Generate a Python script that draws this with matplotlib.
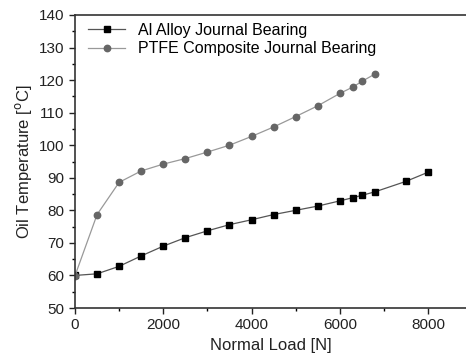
import matplotlib.pyplot as plt
from matplotlib.ticker import MultipleLocator

plt.rcParams['font.family'] = ['Liberation Sans', 'DejaVu Sans']

al_load = [0, 500, 1000, 1500, 2000, 2500, 3000, 3500, 4000, 4500, 5000,
           5500, 6000, 6300, 6500, 6800, 7500, 8000]
al_temp = [60.0, 60.5, 62.8, 66.0, 69.0, 71.6, 73.7, 75.6, 77.1, 78.7, 80.0,
           81.3, 82.9, 83.9, 84.6, 85.7, 88.9, 91.7]

ptfe_load = [0, 500, 1000, 1500, 2000, 2500, 3000, 3500, 4000, 4500, 5000,
             5500, 6000, 6300, 6500, 6800]
ptfe_temp = [59.9, 78.7, 88.6, 92.1, 94.2, 95.9, 97.9, 100.0, 102.7, 105.6,
             108.8, 112.1, 115.9, 117.9, 119.6, 121.9]

fig = plt.figure(figsize=(4.66, 3.64), dpi=100)
ax = fig.add_axes([75 / 466, 1 - 308 / 364, 1 - 75 / 466, 293 / 364])

ax.plot(al_load, al_temp, color='#555555', lw=0.9, marker='s', ms=4.6,
        mfc='black', mec='black', label='Al Alloy Journal Bearing')
ax.plot(ptfe_load, ptfe_temp, color='#999999', lw=0.9, marker='o', ms=4.6,
        mfc='#666666', mec='#666666', label='PTFE Composite Journal Bearing')

ax.set_xlim(0, 8860)
ax.set_ylim(50, 140)
ax.xaxis.set_major_locator(MultipleLocator(2000))
ax.xaxis.set_minor_locator(MultipleLocator(1000))
ax.yaxis.set_major_locator(MultipleLocator(10))
ax.yaxis.set_minor_locator(MultipleLocator(5))
ax.tick_params(which='major', direction='out', length=4, width=1, labelsize=11, colors='#222222')
ax.tick_params(which='minor', direction='out', length=2.5, width=1)
ax.spines['right'].set_visible(False)
for s in ['left', 'bottom', 'top']:
    ax.spines[s].set_linewidth(1.2)
    ax.spines[s].set_color('#333333')

ax.set_xlabel('Normal Load [N]', fontsize=12, color='#222222')
ax.set_ylabel('Oil Temperature [$^{\\rm o}$C]', fontsize=12, color='#222222')
ax.legend(loc='upper left', bbox_to_anchor=(0.014, 1.0), frameon=False,
          fontsize=11.5, handlelength=2.3, borderaxespad=0.1, labelspacing=0.2)

plt.savefig('out.png', dpi=100)
